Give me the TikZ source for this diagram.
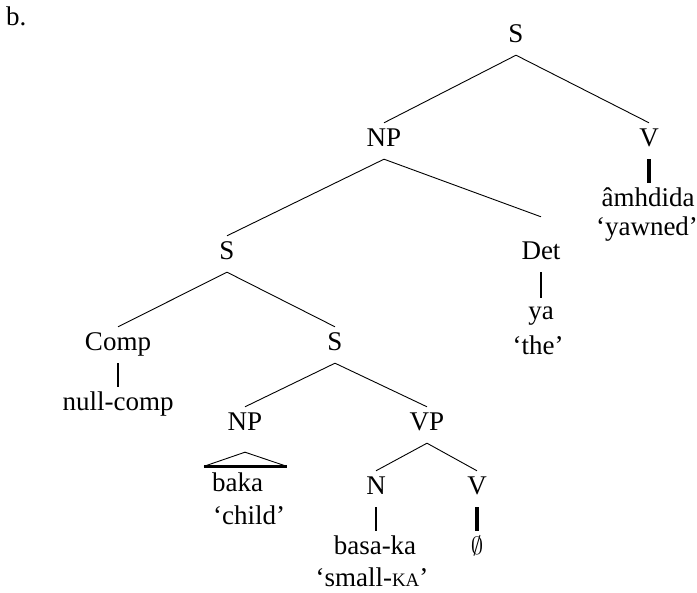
\documentclass[tikz,border=0pt]{standalone}
\usepackage{fontspec}
\setmainfont{Liberation Serif}
\begin{document}
\begin{tikzpicture}[x=1pt,y=1pt,
  lbl/.style={anchor=base, font=\fontsize{27}{32}\selectfont, text height=18pt, text depth=6pt, inner ysep=6pt, inner xsep=0pt},
  edge/.style={line width=0.9pt},
  bar/.style={line width=2.4pt},
  vbar/.style={line width=3.2pt},
  tribase/.style={line width=3pt}]
\useasboundingbox (0,0) rectangle (697,-593);
\node[lbl, anchor=base west] (lab) at (6,-26) {b.};
\node[lbl] (s0) at (516,-43) {S};
\node[lbl] (np0) at (384,-147) {NP};
\node[lbl] (v0) at (649,-147) {V};
\node[lbl] (amh) at (648,-207) {âmhdida};
\node[lbl] (yaw) at (647,-236) {‘yawned’};
\node[lbl] (s1) at (227,-260) {S};
\node[lbl] (det) at (541,-260) {Det};
\node[lbl] (ya) at (541,-320) {ya};
\node[lbl] (the) at (538,-355) {‘the’};
\node[lbl] (comp) at (118,-351) {Comp};
\node[lbl] (null) at (118,-411) {null-comp};
\node[lbl] (s2) at (335,-351) {S};
\node[lbl] (np1) at (245,-431) {NP};
\node[lbl] (vp) at (427,-431) {VP};
\node[lbl, anchor=base west] (baka) at (212,-492) {baka};
\node[lbl, anchor=base west] (child) at (213,-525) {‘child’};
\node[lbl] (n) at (376,-495) {N};
\node[lbl] (v1) at (477,-495) {V};
\node[lbl] (basa) at (375,-555) {basa-ka};
\node[lbl] (zero) at (477,-555) {$\emptyset$};
\node[lbl] (small) at (372,-587) {‘small-{\fontsize{19}{20}\selectfont KA}’};
\draw[edge] (s0.south) -- (np0.north);
\draw[edge] (s0.south) -- (v0.north);
\draw[vbar] (v0.south) -- (v0.south |- amh.north);
\draw[edge] (np0.south) -- (s1.north);
\draw[edge] (np0.south) -- ([yshift=19pt]det.north);
\draw[bar] (det.south) -- ([yshift=-2pt]det.south |- ya.north);
\draw[edge] (s1.south) -- (comp.north);
\draw[edge] (s1.south) -- (s2.north);
\draw[bar] (comp.south) -- (comp.south |- null.north);
\draw[edge] (s2.south) -- (np1.north);
\draw[edge] (s2.south) -- (vp.north);
\draw[edge] (vp.south) -- (n.north);
\draw[edge] (vp.south) -- (v1.north);
\draw[bar] (n.south) -- (n.south |- basa.north);
\draw[vbar] (v1.south) -- (v1.south |- zero.north);
\coordinate (apex) at ([yshift=-9pt]np1.south);
\coordinate (tl) at (204,-466.3);
\coordinate (tr) at (286.7,-466.3);
\draw[edge] (tl) -- (apex) -- (tr);
\draw[tribase] (tl) -- (tr);
\end{tikzpicture}
\end{document}
